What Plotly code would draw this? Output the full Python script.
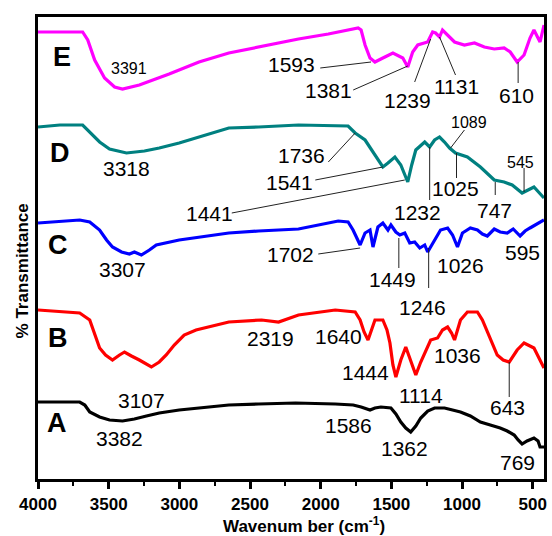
import plotly.graph_objects as go

# ---------------- data (wavenumber in cm-1, offset transmittance in arbitrary units) -------------
wn_E = [4000, 3684, 3648, 3599, 3529, 3458, 3402, 3283, 3072, 2861, 2650, 2439, 2157, 1946, 1806,
        1735, 1714, 1686, 1651, 1616, 1560, 1489, 1419, 1384, 1349, 1313, 1243, 1208, 1187, 1159,
        1138, 1102, 1053, 983, 912, 842, 772, 702, 659, 610, 561, 519, 491, 448, 420]
tr_E = [447, 447, 439, 419, 401, 392, 390, 394, 405, 417, 426, 432, 440, 445, 449,
        451, 449, 434, 421, 417, 421, 426, 421, 412, 427, 434, 437, 447, 446, 442,
        449, 444, 437, 434, 436, 432, 430, 431, 427, 417, 424, 441, 449, 437, 454]

wn_D = [4000, 3845, 3684, 3634, 3564, 3494, 3374, 3247, 3142, 3001, 2861, 2650, 2439, 2157, 1806,
        1756, 1686, 1630, 1560, 1524, 1475, 1433, 1384, 1356, 1327, 1264, 1229, 1194, 1159, 1124,
        1088, 1046, 962, 870, 772, 702, 645, 575, 491, 420]
tr_D = [352, 354, 354, 347, 337, 330, 326, 328, 331, 336, 342, 351, 352, 354, 353,
        346, 339, 327, 312, 316, 322, 314, 297, 314, 329, 337, 332, 339, 342, 337,
        331, 326, 322, 312, 299, 297, 294, 286, 292, 281]

wn_C = [4000, 3705, 3634, 3564, 3515, 3473, 3409, 3353, 3318, 3269, 3212, 3163, 3001, 2861, 2650,
        2439, 2157, 1876, 1806, 1771, 1721, 1686, 1651, 1630, 1595, 1560, 1524, 1503, 1468, 1440,
        1405, 1370, 1335, 1299, 1264, 1243, 1194, 1152, 1102, 1067, 1032, 997, 941, 891, 856,
        821, 772, 730, 680, 638, 589, 554, 519, 469, 420]
tr_C = [256, 259, 257, 249, 239, 232, 227, 225, 227, 224, 229, 234, 239, 242, 246,
        248, 250, 258, 257, 249, 234, 246, 249, 232, 252, 256, 249, 254, 247, 244,
        246, 236, 237, 231, 234, 227, 239, 249, 251, 244, 232, 246, 251, 249, 245,
        243, 250, 247, 246, 250, 243, 248, 251, 255, 259]

wn_B = [4000, 3705, 3634, 3599, 3564, 3522, 3473, 3423, 3388, 3339, 3283, 3198, 3142, 3093, 3036,
        2966, 2882, 2650, 2418, 2298, 2157, 1897, 1756, 1721, 1693, 1665, 1637, 1616, 1560, 1531,
        1510, 1489, 1468, 1433, 1398, 1363, 1327, 1292, 1257, 1222, 1173, 1138, 1102, 1074, 1053,
        1032, 1011, 962, 891, 856, 821, 751, 709, 666, 610, 561, 491, 420]
tr_B = [169, 166, 159, 144, 131, 124, 119, 124, 127, 123, 119, 112, 117, 124, 134,
        144, 149, 157, 159, 157, 164, 169, 167, 159, 147, 139, 151, 159, 159, 149,
        136, 114, 102, 119, 132, 119, 104, 117, 129, 139, 141, 149, 152, 146, 139,
        149, 159, 167, 167, 159, 147, 124, 119, 117, 129, 136, 131, 111]

wn_A = [4000, 3705, 3669, 3634, 3564, 3494, 3402, 3318, 3233, 3142, 3001, 2861, 2650, 2439, 2178,
        1897, 1770, 1714, 1679, 1651, 1616, 1574, 1503, 1468, 1433, 1398, 1363, 1327, 1292, 1243,
        1194, 1124, 1067, 1011, 941, 870, 800, 730, 680, 631, 603, 575, 540, 491, 462, 448, 420]
tr_A = [77, 77, 74, 67, 62, 59, 58, 60, 63, 66, 69, 71, 74, 75, 76,
        75, 74, 72, 70, 69, 71, 72, 71, 65, 57, 51, 47, 53, 61, 68,
        71, 71, 69, 67, 63, 57, 54, 51, 48, 44, 39, 35, 38, 41, 38, 32, 32]

series_names = ["A", "B", "C", "D", "E"]
series_colors = ["#000000", "#ff0000", "#0000ff", "#008080", "#ff00ff"]

# sample letters: (text, wavenumber, y)
letter_labels = [("E", 3831, 422), ("D", 3845, 326), ("C", 3859, 234), ("B", 3859, 141), ("A", 3866, 56)]

# peak labels: (text, wavenumber position, y position, small?)
peak_labels = [
    ("3391", 3353, 411, True), ("1593", 2207, 415, False), ("1381", 1946, 389, False),
    ("1239", 1384, 379, False), ("1131", 1039, 393, False), ("610", 617, 384, False),
    ("3318", 3374, 311, False), ("1736", 2136, 324, False), ("1541", 2221, 297, False),
    ("1441", 2790, 266, False), ("1232", 1313, 267, False), ("1089", 948, 357, True),
    ("1025", 1046, 291, False), ("747", 772, 269, False), ("545", 589, 317, True),
    ("3307", 3402, 210, False), ("1702", 2214, 225, False), ("1449", 1489, 200, False),
    ("1246", 1278, 172, False), ("1026", 1011, 214, False), ("595", 575, 227, False),
    ("2319", 2354, 141, False), ("1640", 1876, 143, False), ("1036", 1032, 124, False),
    ("1444", 1686, 107, False), ("1114", 1292, 84, False), ("643", 680, 72, False),
    ("3107", 3269, 79, False),
    ("3382", 3423, 41, False), ("1586", 1806, 54, False), ("1362", 1405, 31, False),
    ("769", 610, 17, False),
]

# leader lines: (wn0, y0, wn1, y1)
leaders = [
    (2003, 411, 1644, 417), (1770, 389, 1384, 413), (1335, 397, 1222, 440),
    (1046, 404, 1159, 442), (603, 417, 603, 396),
    (1946, 317, 1756, 346), (2038, 299, 1560, 312), (2629, 266, 1405, 299),
    (1229, 279, 1229, 332), (983, 349, 1081, 331), (1039, 326, 1039, 301),
    (765, 297, 765, 284), (561, 311, 561, 287),
    (2017, 225, 1721, 231), (1447, 241, 1447, 211), (1236, 231, 1236, 191),
    (666, 117, 666, 82),
]

x_ticks = [4000, 3500, 3000, 2500, 2000, 1500, 1000, 500]

# ---------------- figure -------------
fig = go.Figure()
all_wn = [wn_A, wn_B, wn_C, wn_D, wn_E]
all_tr = [tr_A, tr_B, tr_C, tr_D, tr_E]
for name, col, xs, ys in zip(series_names, series_colors, all_wn, all_tr):
    fig.add_trace(go.Scatter(x=xs, y=ys, mode="lines", name=name,
                             line=dict(color=col, width=3.2), showlegend=False))

label_font = "Liberation Sans, Arial"
annotations = []
for t, x, y in letter_labels:
    annotations.append(dict(x=x, y=y, xref="x", yref="y", text=t, showarrow=False,
                            font=dict(family=label_font, size=27, color="black", weight="bold")))
for t, x, y, small in peak_labels:
    annotations.append(dict(x=x, y=y, xref="x", yref="y", text=t, showarrow=False,
                            font=dict(family=label_font, size=16 if small else 21, color="black")))
annotations.append(dict(x=-0.031, y=0.45, xref="paper", yref="paper", text="% Transmittance",
                        showarrow=False, textangle=-90, xanchor="center", yanchor="middle",
                        font=dict(family=label_font, size=17, color="black", weight="bold")))
annotations.append(dict(x=0.525, y=-0.099, xref="paper", yref="paper",
                        text="Wavenum ber (cm<sup>-1</sup>)",
                        showarrow=False, xanchor="center", yanchor="middle",
                        font=dict(family=label_font, size=17, color="black", weight="bold")))
shapes = []
for x0, y0, x1, y1 in leaders:
    shapes.append(dict(type="line", xref="x", yref="y", x0=x0, y0=y0, x1=x1, y1=y1,
                       line=dict(color="#222222", width=1)))

fig.update_layout(
    width=552, height=536,
    margin=dict(l=38, r=5, t=17, b=57),
    paper_bgcolor="white", plot_bgcolor="white",
    annotations=annotations, shapes=shapes,
    xaxis=dict(range=[4000, 420], tickvals=x_ticks, ticks="outside", ticklen=7, tickwidth=3,
               tickcolor="black", showgrid=False, zeroline=False, ticklabelstandoff=1,
               showline=True, linewidth=3, linecolor="black", mirror=True,
               minor=dict(dtick=250, tick0=0, ticks="outside", ticklen=4, tickwidth=2, tickcolor="black"),
               tickfont=dict(family=label_font, size=17, color="black", weight="bold")),
    yaxis=dict(range=[0, 462], showticklabels=False, ticks="", showgrid=False, zeroline=False,
               showline=True, linewidth=3, linecolor="black", mirror=True),
)

# remove the default 8px page margin so the 552x536 figure fills the window exactly
fig.write_html("out.html", config={"displayModeBar": False},
               post_script="document.body.style.margin='0';document.body.style.overflow='hidden';")
